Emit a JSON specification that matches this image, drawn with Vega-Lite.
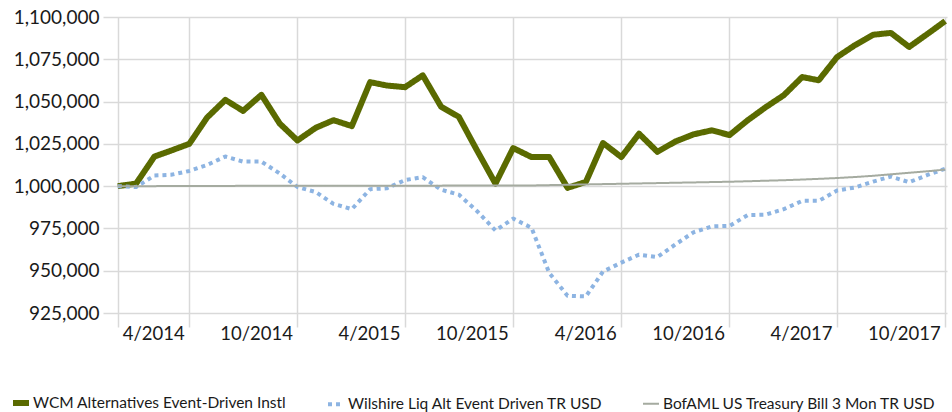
{
  "$schema": "https://vega.github.io/schema/vega-lite/v6.json",
  "width": 844,
  "height": 296,
  "autosize": {"type": "none"},
  "padding": {"left": 103, "top": 17, "right": 5, "bottom": 99},
  "background": "white",
  "config": {"view": {"stroke": null}, "font": "Lato"},
  "data": {
    "values": [
      {"date": "2013/12/01", "wcm": 1000000, "wil": 1000000, "bof": 1000000},
      {"date": "2014/01/01", "wcm": 1001500, "wil": 999500, "bof": 1000000},
      {"date": "2014/02/01", "wcm": 1017500, "wil": 1006300, "bof": 1000000},
      {"date": "2014/03/01", "wcm": 1021000, "wil": 1006700, "bof": 1000100},
      {"date": "2014/04/01", "wcm": 1025000, "wil": 1009000, "bof": 1000100},
      {"date": "2014/05/01", "wcm": 1040500, "wil": 1012500, "bof": 1000100},
      {"date": "2014/06/01", "wcm": 1051000, "wil": 1017500, "bof": 1000100},
      {"date": "2014/07/01", "wcm": 1044500, "wil": 1014500, "bof": 1000200},
      {"date": "2014/08/01", "wcm": 1054000, "wil": 1014500, "bof": 1000200},
      {"date": "2014/09/01", "wcm": 1037000, "wil": 1007500, "bof": 1000200},
      {"date": "2014/10/01", "wcm": 1027000, "wil": 999500, "bof": 1000200},
      {"date": "2014/11/01", "wcm": 1034500, "wil": 996500, "bof": 1000200},
      {"date": "2014/12/01", "wcm": 1039000, "wil": 989500, "bof": 1000300},
      {"date": "2015/01/01", "wcm": 1035500, "wil": 986400, "bof": 1000300},
      {"date": "2015/02/01", "wcm": 1061500, "wil": 998200, "bof": 1000300},
      {"date": "2015/03/01", "wcm": 1059500, "wil": 998700, "bof": 1000300},
      {"date": "2015/04/01", "wcm": 1058500, "wil": 1003600, "bof": 1000300},
      {"date": "2015/05/01", "wcm": 1065500, "wil": 1005300, "bof": 1000300},
      {"date": "2015/06/01", "wcm": 1047000, "wil": 997900, "bof": 1000300},
      {"date": "2015/07/01", "wcm": 1041000, "wil": 995000, "bof": 1000400},
      {"date": "2015/08/01", "wcm": 1021000, "wil": 985200, "bof": 1000400},
      {"date": "2015/09/01", "wcm": 1001500, "wil": 973800, "bof": 1000400},
      {"date": "2015/10/01", "wcm": 1022500, "wil": 980800, "bof": 1000400},
      {"date": "2015/11/01", "wcm": 1017200, "wil": 975400, "bof": 1000400},
      {"date": "2015/12/01", "wcm": 1017200, "wil": 948700, "bof": 1000600},
      {"date": "2016/01/01", "wcm": 999000, "wil": 935200, "bof": 1000800},
      {"date": "2016/02/01", "wcm": 1002500, "wil": 934800, "bof": 1001000},
      {"date": "2016/03/01", "wcm": 1025500, "wil": 949500, "bof": 1001200},
      {"date": "2016/04/01", "wcm": 1017200, "wil": 954800, "bof": 1001400},
      {"date": "2016/05/01", "wcm": 1031000, "wil": 959500, "bof": 1001600},
      {"date": "2016/06/01", "wcm": 1020300, "wil": 958100, "bof": 1001800},
      {"date": "2016/07/01", "wcm": 1026300, "wil": 965400, "bof": 1002000},
      {"date": "2016/08/01", "wcm": 1030600, "wil": 972700, "bof": 1002200},
      {"date": "2016/09/01", "wcm": 1033000, "wil": 976200, "bof": 1002400},
      {"date": "2016/10/01", "wcm": 1030200, "wil": 976500, "bof": 1002600},
      {"date": "2016/11/01", "wcm": 1039000, "wil": 982900, "bof": 1002900},
      {"date": "2016/12/01", "wcm": 1046600, "wil": 983100, "bof": 1003200},
      {"date": "2017/01/01", "wcm": 1053800, "wil": 986400, "bof": 1003500},
      {"date": "2017/02/01", "wcm": 1064500, "wil": 991300, "bof": 1003900},
      {"date": "2017/03/01", "wcm": 1062600, "wil": 991300, "bof": 1004300},
      {"date": "2017/04/01", "wcm": 1076300, "wil": 997400, "bof": 1004800},
      {"date": "2017/05/01", "wcm": 1083300, "wil": 999200, "bof": 1005400},
      {"date": "2017/06/01", "wcm": 1089500, "wil": 1002700, "bof": 1006100},
      {"date": "2017/07/01", "wcm": 1090600, "wil": 1005700, "bof": 1007000},
      {"date": "2017/08/01", "wcm": 1082300, "wil": 1002300, "bof": 1007900},
      {"date": "2017/09/01", "wcm": 1090000, "wil": 1006600, "bof": 1008800},
      {"date": "2017/10/01", "wcm": 1097600, "wil": 1010300, "bof": 1009800}
    ]
  },
  "transform": [{"fold": ["wcm", "wil", "bof"], "as": ["series", "value"]}],
  "mark": {"type": "line", "strokeJoin": "round", "strokeCap": "butt"},
  "encoding": {
    "x": {
      "field": "date",
      "type": "temporal",
      "scale": {"domain": [{"year": 2013, "month": 11, "date": 6}, {"year": 2017, "month": 10, "date": 4}]},
      "axis": {
        "title": null,
        "values": [
          {"year": 2013, "month": 12, "date": 1},
          {"year": 2014, "month": 4, "date": 1},
          {"year": 2014, "month": 10, "date": 1},
          {"year": 2015, "month": 4, "date": 1},
          {"year": 2015, "month": 10, "date": 1},
          {"year": 2016, "month": 4, "date": 1},
          {"year": 2016, "month": 10, "date": 1},
          {"year": 2017, "month": 4, "date": 1},
          {"year": 2017, "month": 10, "date": 1}
        ],
        "labelExpr": "month(datum.value) == 11 ? '' : timeFormat(datum.value, '%-m/%Y')",
        "grid": true,
        "gridColor": "#d9d9d9",
        "gridWidth": 1.5,
        "tickColor": "#d9d9d9",
        "tickWidth": 1.5,
        "tickSize": 14,
        "domain": false,
        "labelAlign": "right",
        "labelBaseline": "top",
        "labelOffset": -5,
        "labelPadding": -3,
        "labelFontSize": 18.5,
        "labelColor": "#1a1a1a",
        "labelFlush": false,
        "labelOverlap": false
      }
    },
    "y": {
      "field": "value",
      "type": "quantitative",
      "scale": {"domain": [925000, 1100000], "nice": false, "zero": false},
      "axis": {
        "title": null,
        "values": [925000, 950000, 975000, 1000000, 1025000, 1050000, 1075000, 1100000],
        "format": ",.0f",
        "grid": true,
        "gridColor": "#d9d9d9",
        "gridWidth": 1.5,
        "ticks": false,
        "domain": false,
        "labelPadding": 4,
        "labelFontSize": 19,
        "labelColor": "#1a1a1a"
      }
    },
    "color": {
      "field": "series",
      "type": "nominal",
      "scale": {"domain": ["wcm", "wil", "bof"], "range": ["#5a6a00", "#8db4e2", "#a5aba0"]},
      "legend": {
        "title": null,
        "orient": "none",
        "legendX": -93,
        "legendY": 375,
        "direction": "horizontal",
        "columns": 3,
        "gridAlign": "all",
        "columnPadding": 13,
        "symbolType": "stroke",
        "symbolSize": 256,
        "labelFontSize": 15.5,
        "labelOffset": 1,
        "labelLimit": 400,
        "labelColor": "#1a1a1a",
        "labelExpr": "datum.value == 'wcm' ? 'WCM Alternatives Event-Driven Instl' : datum.value == 'wil' ? 'Wilshire Liq Alt Event Driven TR USD' : 'BofAML US Treasury Bill 3 Mon TR USD'"
      }
    },
    "strokeWidth": {
      "field": "series",
      "type": "nominal",
      "scale": {"type": "ordinal", "domain": ["wcm", "wil", "bof"], "range": [6, 4, 2]}
    },
    "strokeDash": {
      "field": "series",
      "type": "nominal",
      "scale": {"domain": ["wcm", "wil", "bof"], "range": [[1, 0], [4, 4], [1, 0]]}
    }
  }
}
